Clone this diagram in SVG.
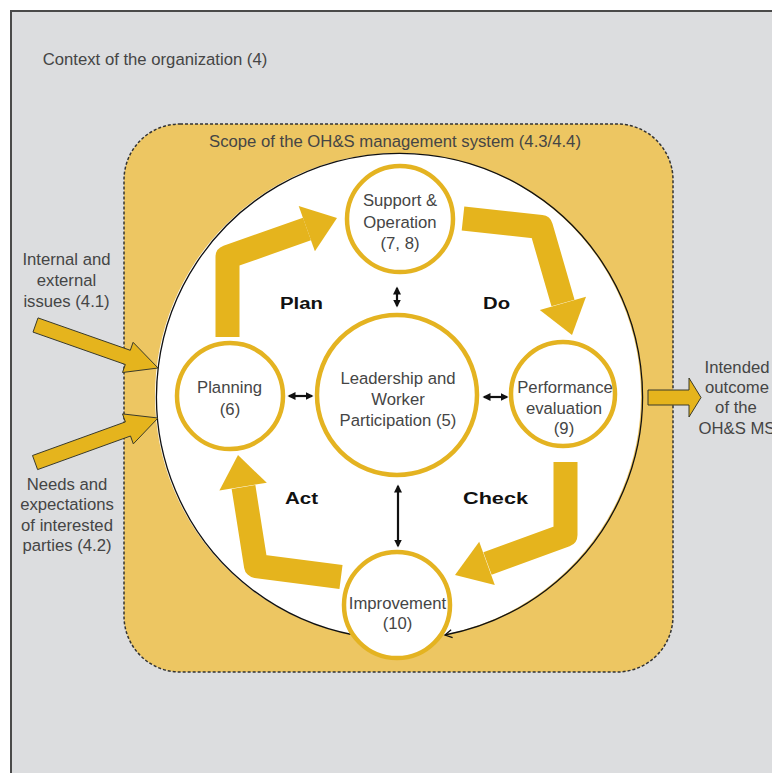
<svg xmlns="http://www.w3.org/2000/svg" width="772" height="773" viewBox="0 0 772 773">
  <style>
    .txt { font-family: "Liberation Sans", Arial, sans-serif; font-size: 16.7px; fill: #454545; text-anchor: middle; }
    .lbl { font-family: "Liberation Sans", Arial, sans-serif; font-size: 16px; font-weight: bold; fill: #111; text-anchor: middle; }
    .ring { fill: #ffffff; stroke: #e4b321; stroke-width: 4.5; }
    .band { fill: none; stroke: #e5b41d; stroke-width: 24; stroke-linejoin: round; stroke-linecap: butt; }
    .head { fill: #e5b41d; }
    .input { fill: #e5b41d; stroke: #3a3a2a; stroke-width: 1; stroke-linejoin: miter; }
    .dbl { stroke: #111; stroke-width: 2.2; fill: none; marker-start: url(#tip); marker-end: url(#tip); }
  </style>
  <defs>
    <marker id="tip" markerWidth="9" markerHeight="9" refX="6.5" refY="4.5" orient="auto-start-reverse" markerUnits="userSpaceOnUse">
      <path d="M0,0.5 L8,4.5 L0,8.5 Z" fill="#111"/>
    </marker>
    <marker id="chev" markerWidth="10" markerHeight="10" refX="8" refY="5" orient="auto" markerUnits="userSpaceOnUse">
      <path d="M1,1 L8,5 L1,9" fill="none" stroke="#111" stroke-width="1.3"/>
    </marker>
  </defs>

  <!-- context of the organization -->
  <g id="context">
    <rect x="11" y="11" width="800" height="800" fill="#dcdddf" stroke="#4a4a4a" stroke-width="2"/>
    <text class="txt" x="155" y="65">Context of the organization (4)</text>
  </g>

  <!-- scope of the management system -->
  <g id="scope">
    <rect x="124" y="124" width="549" height="548" rx="56" ry="56" fill="#edc662" stroke="#333" stroke-width="1.5" stroke-dasharray="3 2"/>
    <text class="txt" x="395" y="147">Scope of the OH&amp;S management system (4.3/4.4)</text>
  </g>

  <!-- PDCA field -->
  <g id="cycle-field">
    <circle cx="398" cy="396" r="243" fill="#ffffff"/>
  </g>

  <g id="connectors">
    <!-- continual cycle around the field -->
    <path d="M354,635 A243,243 0 1 1 445,635" fill="none" stroke="#111" stroke-width="1.3" marker-end="url(#chev)"/>

    <!-- Plan: Planning -> Support & Operation -->
    <path class="band" d="M227.5,337 L227.5,257 L307,229"/>
    <polygon class="head" points="298.7,206.1 337,218 314.9,251.3"/>

    <!-- Do: Support & Operation -> Performance evaluation -->
    <path class="band" d="M463,218.5 L541,227 L563,303"/>
    <polygon class="head" points="586,296.7 572,335 539.8,309.9"/>

    <!-- Check: Performance evaluation -> Improvement -->
    <path class="band" d="M565.5,462 L565.5,535 L487.5,563.5"/>
    <polygon class="head" points="479.2,541.8 455,575 494.8,585"/>

    <!-- Act: Improvement -> Planning -->
    <path class="band" d="M341,577 L256,566 L243.5,487"/>
    <polygon class="head" points="219.4,490.4 238,455 266.8,482.8"/>

    <!-- external inputs -->
    <polygon class="input" points="38,317.9 130.3,350.3 133.1,342.3 158,368 122.5,372.5 125.3,364.5 33,332.1"/>
    <polygon class="input" points="32.5,455.5 125.4,421.9 122.5,413.9 158,418 133.3,443.9 130.5,436 37.6,469.6"/>

    <!-- intended outcome -->
    <polygon class="input" points="648,390 689,390 689,378 701,397.5 689,417 689,405 648,405"/>

    <!-- links with leadership -->
    <line class="dbl" x1="289" y1="396" x2="312" y2="396"/>
    <line class="dbl" x1="484" y1="397" x2="507" y2="397"/>
    <line class="dbl" x1="397" y1="288" x2="397" y2="306"/>
    <line class="dbl" x1="398" y1="486" x2="398" y2="546"/>
  </g>

  <!-- phase labels -->
  <g id="labels">
    <text class="lbl" x="301.5" y="308.5" textLength="43" lengthAdjust="spacingAndGlyphs">Plan</text>
    <text class="lbl" x="496.5" y="308.5" textLength="27" lengthAdjust="spacingAndGlyphs">Do</text>
    <text class="lbl" x="301.5" y="503.5" textLength="33" lengthAdjust="spacingAndGlyphs">Act</text>
    <text class="lbl" x="495.5" y="503.5" textLength="65" lengthAdjust="spacingAndGlyphs">Check</text>
  </g>

  <g id="node-support">
    <circle class="ring" cx="400" cy="219" r="53"/>
    <text class="txt" x="400" y="205.5">Support &amp;</text>
    <text class="txt" x="400" y="227.5">Operation</text>
    <text class="txt" x="400" y="248.5">(7, 8)</text>
  </g>

  <g id="node-planning">
    <circle class="ring" cx="230" cy="396" r="53"/>
    <text class="txt" x="229.5" y="392.5">Planning</text>
    <text class="txt" x="230" y="414.5">(6)</text>
  </g>

  <g id="node-leadership">
    <circle class="ring" cx="397" cy="395" r="80"/>
    <text class="txt" x="398" y="383.5">Leadership and</text>
    <text class="txt" x="398" y="404.5">Worker</text>
    <text class="txt" x="398" y="425.5">Participation (5)</text>
  </g>

  <g id="node-performance">
    <circle class="ring" cx="563" cy="394" r="52"/>
    <text class="txt" x="565" y="392.5">Performance</text>
    <text class="txt" x="564" y="413.5">evaluation</text>
    <text class="txt" x="564" y="433.5">(9)</text>
  </g>

  <g id="node-improvement">
    <circle class="ring" cx="397" cy="605" r="53"/>
    <text class="txt" x="397.5" y="608.5">Improvement</text>
    <text class="txt" x="397.5" y="628.5">(10)</text>
  </g>

  <g id="node-issues">
    <text class="txt" x="66.5" y="265">Internal and</text>
    <text class="txt" x="66.5" y="286">external</text>
    <text class="txt" x="66.5" y="307">issues (4.1)</text>
  </g>

  <g id="node-parties">
    <text class="txt" x="67" y="490">Needs and</text>
    <text class="txt" x="67" y="510">expectations</text>
    <text class="txt" x="67" y="531">of interested</text>
    <text class="txt" x="67" y="551">parties (4.2)</text>
  </g>

  <g id="node-outcome">
    <text class="txt" x="737" y="373">Intended</text>
    <text class="txt" x="737" y="393">outcome</text>
    <text class="txt" x="736" y="413">of the</text>
    <text class="txt" x="737" y="434">OH&amp;S MS</text>
  </g>
</svg>
